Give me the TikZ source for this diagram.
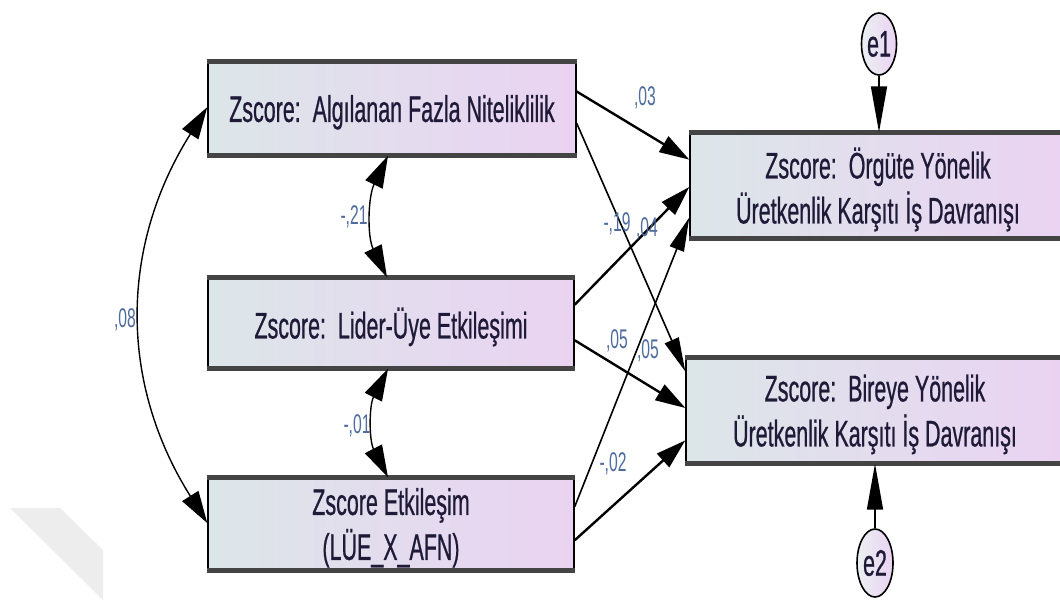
\documentclass[tikz,border=0pt]{standalone}
\usepackage{fontspec}
\setmainfont{Liberation Sans}
\newfontfamily\narrowsans{Liberation Sans}[FakeStretch=0.58,FakeBold=0.6]
\newfontfamily\coefsans{Liberation Sans}[FakeStretch=0.58]
\usetikzlibrary{arrows.meta,shapes.geometric,calc}

\definecolor{boxleft}{HTML}{DCE6E9}
\definecolor{boxright}{HTML}{EAD3F2}
\definecolor{rimgray}{HTML}{444444}
\definecolor{inktext}{HTML}{1E1A38}
\definecolor{coefblue}{HTML}{4F6C9E}
\definecolor{watermark}{HTML}{EDEDED}

\begin{document}
\begin{tikzpicture}[x=1pt,y=-1pt,
  varbox/.style={rectangle, draw=black, line width=1.4pt,
    left color=boxleft, right color=boxright, inner sep=0pt,
    align=center, text=inktext, text depth=0pt,
    font=\narrowsans\fontsize{37}{45}\selectfont},
  errnode/.style={ellipse, draw=black, line width=1.6pt,
    left color=boxleft!60!white, right color=boxright, inner sep=0pt,
    minimum width=35pt, text=inktext,
    font=\narrowsans\fontsize{37}{45}\selectfont},
  rim/.style={line width=5pt, rimgray},
  coef/.style={text=coefblue, inner sep=0pt,
    font=\coefsans\fontsize{27}{30}\selectfont},
  flat/.style={line width=2.4pt, -{Triangle[length=30pt,width=18pt]}},
  steep/.style={line width=1.6pt, -{Triangle[length=34pt,width=15pt]}},
  errpath/.style={line width=1.6pt, -{Triangle[length=46pt,width=16pt]}},
  covpath/.style={line width=1.4pt,
    {Triangle[length=32pt,width=19pt]}-{Triangle[length=32pt,width=19pt]}},
]
\useasboundingbox (0,0) rectangle (1060,606);
\clip (0,0) rectangle (1060,606);

% faint corner band
\fill[watermark] (10,508) -- (60,508) -- (103,550) -- (103,600) -- cycle;

% observed variables
\node[varbox, minimum width=368pt, minimum height=93pt] (b1) at (392,108.5)
  {Zscore:\ \ Algılanan Fazla Niteliklilik};
\node[varbox, minimum width=366pt, minimum height=90pt] (b2) at (391,323)
  {Zscore:\ \ Lider-Üye Etkileşimi};
\node[varbox, minimum width=366pt, minimum height=92pt] (b3) at (391,524)
  {Zscore Etkileşim\\(LÜE\_X\_AFN)};
\node[varbox, minimum width=376pt, minimum height=105pt] (r1) at (878,185.5)
  {Zscore:\ \ Örgüte Yönelik\\Üretkenlik Karşıtı İş Davranışı};
\node[varbox, minimum width=378pt, minimum height=105pt] (r2) at (875,410.5)
  {Zscore:\ \ Bireye Yönelik\\Üretkenlik Karşıtı İş Davranışı};

% heavy top and bottom rims of the boxes
\foreach \b in {b1,b2,b3,r1,r2}{
  \draw[rim] (\b.north west) -- (\b.north east);
  \draw[rim] (\b.south west) -- (\b.south east);
}

% error terms
\node[errnode, minimum height=62pt] (e1) at (879,44) {e1};
\node[errnode, minimum width=36pt, minimum height=68pt] (e2) at (875,563) {e2};
\draw[errpath] (e1.south) -- (e1.south |- r1.north);
\draw[errpath] (e2.north) -- (e2.north |- r2.south);

% regression paths
\draw[flat]  ($(b1.north east)!0.32!(b1.south east)$)  -- ($(r1.north west)!0.257!(r1.south west)$);
\draw[steep] ($(b1.north east)!0.656!(b1.south east)$) -- ($(r2.north west)!0.133!(r2.south west)$);
\draw[flat]  ($(b2.north east)!0.30!(b2.south east)$)  -- ($(r1.north west)!0.514!(r1.south west)$);
\draw[flat]  ($(b2.north east)!0.689!(b2.south east)$) -- ($(r2.north west)!0.476!(r2.south west)$);
\draw[steep] ($(b3.north east)!0.315!(b3.south east)$) -- ($(r1.north west)!0.80!(r1.south west)$);
\draw[flat]  ($(b3.north east)!0.674!(b3.south east)$) -- ($(r2.north west)!0.781!(r2.south west)$);

% covariances
\draw[covpath] ([xshift=-4pt]b1.south) .. controls +(-20,41) and +(-20,-41) .. ([xshift=-4pt]b2.north);
\draw[covpath] ([xshift=-3pt]b2.south) .. controls +(-19,37) and +(-19,-37) .. ([xshift=-3pt]b3.north);
\draw[covpath] ($(b1.north west)!0.485!(b1.south west)$) .. controls +(-88,140) and +(-88,-140) .. ($(b3.north west)!0.49!(b3.south west)$);

% coefficients
\node[coef] (c03)  at (645,98)  {,03};
\node[coef] (c19)  at (617,224) {-,19};
\node[coef] (c04)  at (647,229) {,04};
\node[coef] (c05a) at (617,341) {,05};
\node[coef] (c05b) at (648,351) {,05};
\node[coef] (c02)  at (613,464) {-,02};
\node[coef] (c21)  at (354,217) {-,21};
\node[coef] (c01)  at (357,426) {-,01};
\node[coef] (c08)  at (125,320) {,08};
\end{tikzpicture}
\end{document}
